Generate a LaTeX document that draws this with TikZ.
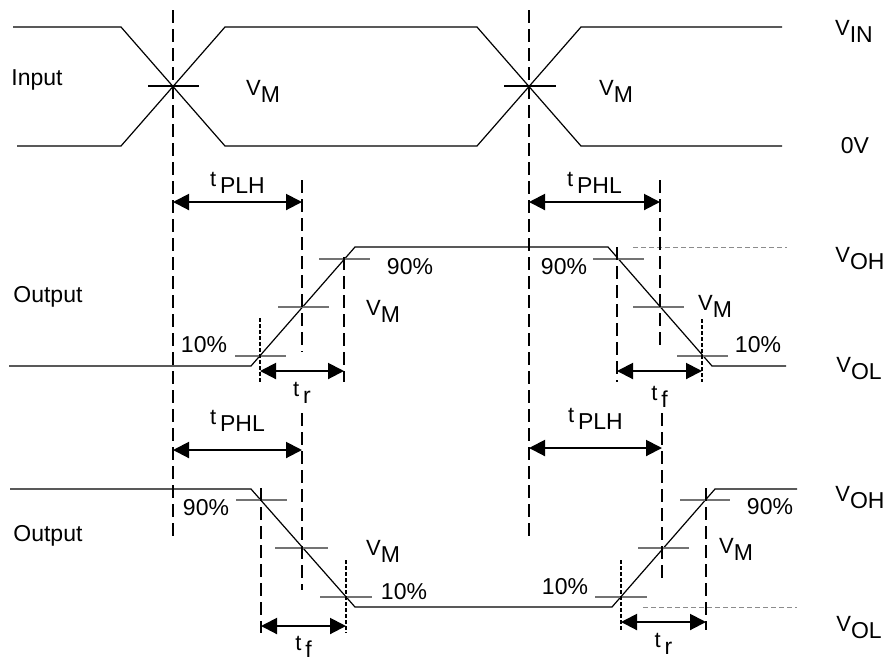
\documentclass[tikz,border=0pt]{standalone}
\usepackage{fontspec}
\setmainfont{Liberation Sans}
\usetikzlibrary{arrows.meta}
\usetikzlibrary{calc}
\tikzstyle{wave} = [line width=0.6pt, black]
\tikzstyle{lvltick} = [line width=0.7pt, black!55]
\tikzstyle{guide} = [line width=1pt, dash pattern=on 6.5pt off 3pt]
\tikzstyle{fineguide} = [line width=1pt, dash pattern=on 2pt off 1pt]
\tikzstyle{refline} = [line width=0.5pt, black!45, dash pattern=on 2.5pt off 1.5pt]
\tikzstyle{arrow} = [{Triangle[length=8pt,width=8pt]}-{Triangle[length=8pt,width=8pt]}, line width=1pt]
\tikzstyle{lbl} = [font=\fontsize{11.5}{13}\selectfont, inner sep=0pt]
\newcommand{\vsub}[2]{{\fontsize{11}{12}\selectfont #1}\raisebox{-3.5pt}{\fontsize{11.5}{13}\selectfont #2}}

\begin{document}
\begin{tikzpicture}[x=0.5pt,y=-0.5pt]

  %\draw[help lines] (0,0) grid (895,661);
  \useasboundingbox (0,0) rectangle (895,661);
  \coordinate (crossA) at (173,86);
  \coordinate (crossB) at (529,86);
  \coordinate (plhS) at (173,202);
  \coordinate (plhE) at (302,202);
  \coordinate (phlS) at (529,202);
  \coordinate (phlE) at (660,202);
  \coordinate (trS) at (260,371);
  \coordinate (trE) at (344,371);
  \coordinate (tfS) at (617,371);
  \coordinate (tfE) at (702,371);
  \coordinate (phlSb) at (173,450);
  \coordinate (phlEb) at (302,450);
  \coordinate (plhSb) at (529,448);
  \coordinate (plhEb) at (662,448);
  \coordinate (tfSb) at (261,626);
  \coordinate (tfEb) at (346,626);
  \coordinate (trSb) at (621,622);
  \coordinate (trEb) at (706,622);


  % Input
  \draw [wave] (13,27) -- (121,27) -- (225,146) -- (477,146) -- (581,27) -- (782,27);
  \draw [wave] (17,146) -- (121,146) -- (225,27) -- (477,27) -- (581,146) -- (782,146);
  \draw [wave] ([xshift=-12.5pt]crossA) -- ([xshift=13pt]crossA);
  \draw [wave] ([xshift=-12.5pt]crossB) -- ([xshift=13.5pt]crossB);
  \node [lbl, anchor=west] (input) at (11,80) {Input};
  \node [lbl] (vmA) at (263,91) {\vsub{V}{M}};
  \node [lbl] (vmB) at (616,91) {\vsub{V}{M}};

  % Input edges
  \draw [guide] (173,10) -- (173,537);
  \draw [guide] (529,10) -- (529,537);


  % Output (upper)
  \draw [wave] (9,366) -- (251,366) -- (355,247) -- (608,247) -- (712,366) -- (786,366);
  \draw [refline] (633,247) -- (787,247);
  \draw [lvltick] (319,259) -- (370,259);
  \draw [lvltick] (278,307) -- (329,307);
  \draw [lvltick] (235,356) -- (286,356);
  \draw [lvltick] (593,259) -- (644,259);
  \draw [lvltick] (633,307) -- (684,307);
  \draw [lvltick] (677,356) -- (728,356);
  \draw [guide] (302,180) -- (302,352);
  \draw [guide] (660,180) -- (660,350);
  \draw [guide] (344,257) -- (344,382);
  \draw [fineguide] (260,318) -- (260,382);
  \draw [guide] (617,247) -- (617,382);
  \draw [fineguide] (702,319) -- (702,382);
  \node [lbl, anchor=west] (outA) at (13,297) {Output};
  \node [lbl] (p90a) at (410,267) {90\%};
  \node [lbl] (vmC) at (383,311) {\vsub{V}{M}};
  \node [lbl] (p10a) at (204,345) {10\%};
  \node [lbl] (p90b) at (564,267) {90\%};
  \node [lbl] (vmD) at (715,306) {\vsub{V}{M}};
  \node [lbl] (p10b) at (758,345) {10\%};

  % Delays (upper)
  \draw [arrow] (plhS) -- node [lbl, above=4pt] {\vsub{t}{\,PLH}} (plhE);
  \draw [arrow] (phlS) -- node [lbl, above=4pt] {\vsub{t}{\,PHL}} (phlE);
  \draw [arrow] (trS) -- node [lbl, below=5pt] {\vsub{t}{\,r}} (trE);
  \draw [arrow] (tfS) -- node [lbl, below=7pt] {\vsub{t}{\,f}} (tfE);


  % Output (lower)
  \draw [wave] (10,489) -- (251,489) -- (355,607) -- (612,607) -- (715,489) -- (797,489);
  \draw [refline] (643,607) -- (797,607);
  \draw [lvltick] (236,500) -- (287,500);
  \draw [lvltick] (275,548) -- (328,548);
  \draw [lvltick] (320,597) -- (372,597);
  \draw [lvltick] (595,597) -- (647,597);
  \draw [lvltick] (638,548) -- (689,548);
  \draw [lvltick] (680,500) -- (730,500);
  \draw [guide] (302,413) -- (302,590);
  \draw [guide] (662,413) -- (662,582);
  \draw [guide] (261,488) -- (261,633);
  \draw [fineguide] (346,560) -- (346,633);
  \draw [fineguide] (621,560) -- (621,630);
  \draw [guide] (706,488) -- (706,630);
  \node [lbl, anchor=west] (outB) at (13,536) {Output};
  \node [lbl] (p90c) at (206,508) {90\%};
  \node [lbl] (vmE) at (383,551) {\vsub{V}{M}};
  \node [lbl] (p10c) at (404,592) {10\%};
  \node [lbl] (p10d) at (565,587) {10\%};
  \node [lbl] (vmF) at (736,549) {\vsub{V}{M}};
  \node [lbl] (p90d) at (770,507) {90\%};

  % Delays (lower)
  \draw [arrow] (phlSb) -- node [lbl, above=9pt] {\vsub{t}{\,PHL}} (phlEb);
  \draw [arrow] (plhSb) -- node [lbl, above=9pt] {\vsub{t}{\,PLH}} (plhEb);
  \draw [arrow] (tfSb) -- node [lbl, below=4.5pt] {\vsub{t}{\,f}} (tfEb);
  \draw [arrow] (trSb) -- node [lbl, below=5pt] {\vsub{t}{\,r}} (trEb);


  % Levels
  \node [lbl] (vin) at (854,31) {\vsub{V}{IN}};
  \node [lbl] (zero) at (855,146) {0V};
  \node [lbl] (vohA) at (860,259) {\vsub{V}{OH}};
  \node [lbl] (volA) at (859,369) {\vsub{V}{OL}};
  \node [lbl] (vohB) at (860,498) {\vsub{V}{OH}};
  \node [lbl] (volB) at (859,628) {\vsub{V}{OL}};

\end{tikzpicture}
\end{document}
